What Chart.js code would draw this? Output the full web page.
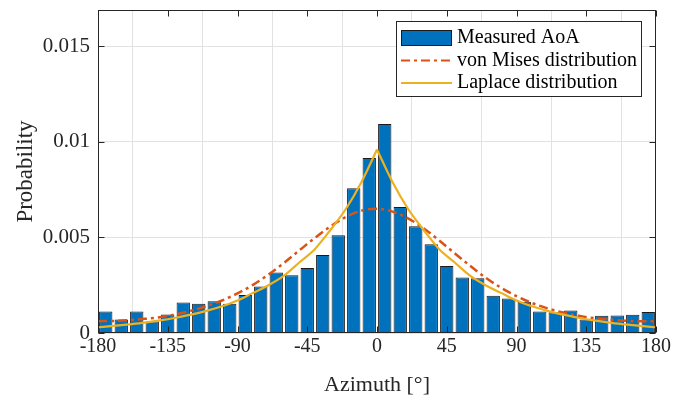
<!DOCTYPE html>
<html><head><meta charset="utf-8">
<script src="https://cdn.jsdelivr.net/npm/chart.js@4.4.0/dist/chart.umd.min.js"></script>
<style>html,body{margin:0;padding:0;background:#fff;overflow:hidden}#wrap{width:691px;height:401px}</style>
</head><body><div id="wrap"><canvas id="c" width="691" height="401"></canvas></div>
<script>
// ---- data ----
const binCenters = [-175,-165,-155,-145,-135,-125,-115,-105,-95,-85,-75,-65,-55,-45,-35,-25,-15,-5,
                    5,15,25,35,45,55,65,75,85,95,105,115,125,135,145,155,165,175];
const measured = [0.00113,0.0007,0.00113,0.0006,0.00097,0.00159,0.00153,0.00166,0.00153,0.00199,0.00243,0.00316,0.00302,0.0034,0.00408,0.00511,0.00758,0.00915,
                  0.01093,0.00659,0.00558,0.00465,0.0035,0.00291,0.00287,0.00195,0.00181,0.00164,0.00112,0.00108,0.00118,0.0007,0.0009,0.00091,0.00095,0.0011];
const curveX = [-180,-170,-160,-150,-140,-130,-120,-110,-100,-90,-80,-70,-60,-50,-40,-30,-20,-10,0,
                10,20,30,40,50,60,70,80,90,100,110,120,130,140,150,160,170,180];
const vonMises = [0.00062,0.00063,0.00067,0.00074,0.00083,0.00097,0.00116,0.0014,0.0017,0.00207,0.00252,0.00306,0.00367,0.00433,0.00498,0.00558,0.00607,0.0064,0.0065,
                  0.00635,0.006,0.00548,0.00485,0.00418,0.00352,0.0029,0.00237,0.00193,0.00157,0.00129,0.00107,0.0009,0.00078,0.0007,0.00064,0.00061,0.00062];
const laplace = [0.0003,0.00037,0.00045,0.00054,0.00066,0.0008,0.00096,0.00116,0.0014,0.0017,0.0021,0.0025,0.003,0.0037,0.0044,0.0054,0.0065,0.0079,0.0096,
                 0.0079,0.0065,0.0054,0.0044,0.0037,0.003,0.0025,0.0021,0.0017,0.0014,0.00116,0.00096,0.0008,0.00066,0.00054,0.00045,0.00037,0.0003];
const seriesNames = ['Measured AoA','von Mises distribution','Laplace distribution'];
const xTicks = [-180,-135,-90,-45,0,45,90,135,180];
const xTickLabels = ['-180','-135','-90','-45','0','45','90','135','180'];
const yTicks = [0,0.005,0.01,0.015];
const yTickLabels = ['0','0.005','0.01','0.015'];
const xTitle = 'Azimuth [°]';
const yTitle = 'Probability';

// ---- styling ----
const FONT = "'Liberation Serif','Times New Roman',Times,serif";
const C_BAR = '#0072BD', C_VM = '#D95319', C_LP = '#EDB120', C_AX = '#262626';
const VM_DASH = [9,4,3,4];

const zeroIdx = curveX.indexOf(0);
const pts = (xs, ys) => xs.map((x, i) => ({x, y: ys[i]}));

const boxPlugin = {
  id: 'box',
  afterDatasetsDraw(chart) {
    const {ctx, chartArea: a, scales: {x, y}} = chart;
    ctx.save();
    ctx.strokeStyle = C_AX; ctx.lineWidth = 1;
    const L = Math.round(a.left) + 0.5, R = Math.round(a.right) - 0.5,
          T = Math.round(a.top) + 0.5, B = Math.round(a.bottom) - 0.5;
    ctx.strokeRect(L, T, R - L, B - T);
    const tl = 6;
    ctx.beginPath();
    xTicks.forEach(v => {
      const px = Math.round(x.getPixelForValue(v)) + 0.5;
      ctx.moveTo(px, B); ctx.lineTo(px, B - tl);
      ctx.moveTo(px, T); ctx.lineTo(px, T + tl);
    });
    yTicks.forEach(v => {
      const py = Math.round(y.getPixelForValue(v)) + 0.5;
      ctx.moveTo(L, py); ctx.lineTo(L + tl, py);
      ctx.moveTo(R, py); ctx.lineTo(R - tl, py);
    });
    ctx.stroke();
    ctx.restore();
  },
  afterDraw(chart) {
    const {ctx} = chart;
    ctx.save();
    const bx = 396.5, by = 21.5, bw = 245, bh = 75;
    ctx.fillStyle = '#fff'; ctx.fillRect(bx, by, bw, bh);
    ctx.strokeStyle = C_AX; ctx.lineWidth = 1; ctx.strokeRect(bx, by, bw, bh);
    const sx0 = 401, sx1 = 452, tx = 457;
    const rows = [38, 60.5, 83];
    ctx.fillStyle = C_BAR; ctx.fillRect(sx0, rows[0] - 8, sx1 - sx0, 16);
    ctx.strokeStyle = '#1a1a1a'; ctx.strokeRect(sx0 + 0.5, rows[0] - 7.5, sx1 - sx0 - 1, 15);
    ctx.strokeStyle = C_VM; ctx.lineWidth = 2; ctx.setLineDash(VM_DASH);
    ctx.beginPath(); ctx.moveTo(sx0, rows[1]); ctx.lineTo(sx1, rows[1]); ctx.stroke();
    ctx.setLineDash([]);
    ctx.strokeStyle = C_LP; ctx.lineWidth = 2;
    ctx.beginPath(); ctx.moveTo(sx0, rows[2]); ctx.lineTo(sx1, rows[2]); ctx.stroke();
    ctx.fillStyle = '#000'; ctx.font = '20px ' + FONT; ctx.textBaseline = 'middle'; ctx.textAlign = 'left';
    seriesNames.forEach((n, i) => ctx.fillText(n, tx, rows[i]));
    ctx.restore();
  }
};

new Chart(document.getElementById('c'), {
  data: {
    datasets: [
      {type: 'bar', label: seriesNames[0], data: pts(binCenters, measured),
       backgroundColor: C_BAR, borderColor: '#1a1a1a', borderWidth: 1,
       barPercentage: 0.86, categoryPercentage: 1, order: 3},
      {type: 'line', label: seriesNames[1], data: pts(curveX, vonMises),
       borderColor: C_VM, borderWidth: 2.5, borderDash: VM_DASH, pointRadius: 0,
       cubicInterpolationMode: 'monotone', fill: false, order: 2},
      {type: 'line', label: seriesNames[2], data: pts(curveX.slice(0, zeroIdx + 1), laplace.slice(0, zeroIdx + 1)),
       borderColor: C_LP, borderWidth: 2.2, pointRadius: 0, cubicInterpolationMode: 'monotone', fill: false, order: 1},
      {type: 'line', label: seriesNames[2], data: pts(curveX.slice(zeroIdx), laplace.slice(zeroIdx)),
       borderColor: C_LP, borderWidth: 2.2, pointRadius: 0, cubicInterpolationMode: 'monotone', fill: false, order: 1}
    ]
  },
  options: {
    responsive: false, animation: false, devicePixelRatio: 1,
    layout: {padding: {top: 10, right: 35, left: 0, bottom: 0}},
    plugins: {legend: {display: false}, tooltip: {enabled: false}},
    scales: {
      x: {
        type: 'linear', min: -180, max: 180, offset: false,
        afterBuildTicks: s => { s.ticks = xTicks.map(v => ({value: v})); },
        afterFit: s => { s.height = 68; s.paddingLeft = 0; s.paddingRight = 0; },
        grid: {color: '#e2e2e2', drawTicks: false},
        border: {display: false},
        ticks: {color: '#262626', font: {family: FONT, size: 20}, padding: 2, maxRotation: 0,
                callback: (v, i) => xTickLabels[i]},
        title: {display: true, text: xTitle, color: '#262626', font: {family: FONT, size: 22}, padding: {bottom: 3, top: 0}}
      },
      y: {
        type: 'linear', min: 0, max: 0.0169,
        afterBuildTicks: s => { s.ticks = yTicks.map(v => ({value: v})); },
        afterFit: s => { s.width = 98; s.paddingTop = 0; s.paddingBottom = 0; },
        grid: {color: '#e2e2e2', drawTicks: false},
        border: {display: false},
        ticks: {color: '#262626', font: {family: FONT, size: 21}, padding: 8,
                callback: (v, i) => yTickLabels[i]},
        title: {display: true, text: yTitle, color: '#262626', font: {family: FONT, size: 23}, padding: {top: 12, bottom: 0}}
      }
    }
  },
  plugins: [boxPlugin]
});
</script>
</body></html>
